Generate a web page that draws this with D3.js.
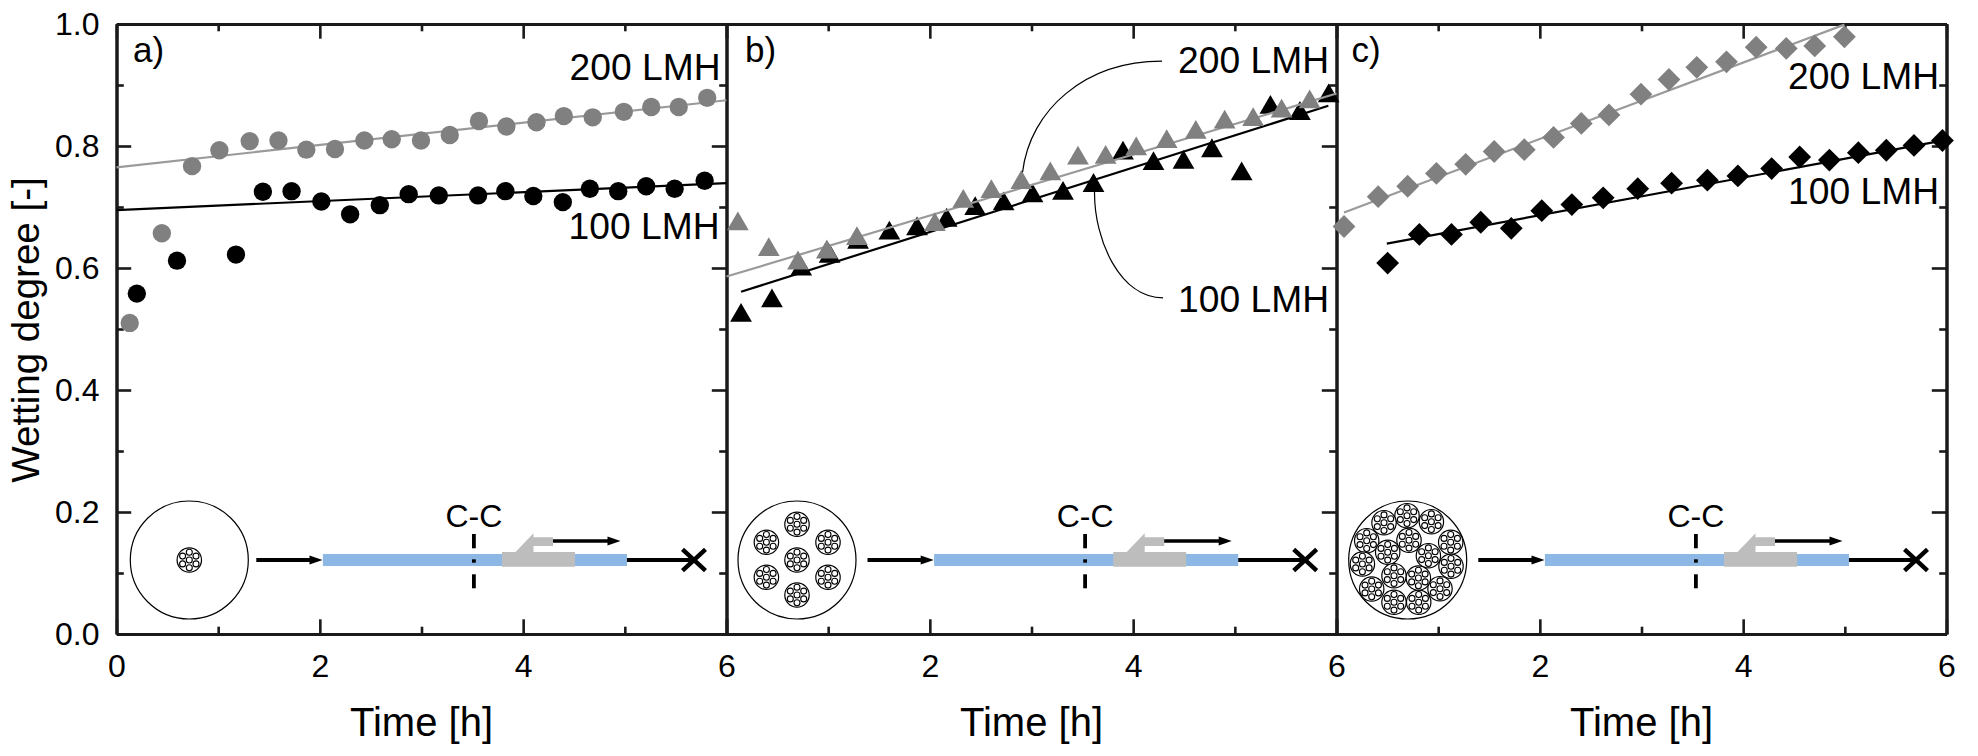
<!DOCTYPE html>
<html>
<head>
<meta charset="utf-8">
<script src="https://cdn.jsdelivr.net/npm/d3@7"></script>
<style>
    html, body { margin: 0; padding: 0; background: #fff; }
    svg { display: block; }
    text { font-family: "Liberation Sans", Arial, sans-serif; fill: #000; }
</style>
</head>
<body>
<script>
"use strict";

// [time (h), wetting degree]
const a200 = [[0.13, 0.510], [0.446, 0.657], [0.743, 0.767], [1.012, 0.793], [1.31, 0.808],
    [1.593, 0.809], [1.867, 0.794], [2.149, 0.795], [2.438, 0.809], [2.707, 0.811],
    [2.995, 0.809], [3.278, 0.818], [3.565, 0.841], [3.835, 0.832], [4.131, 0.839],
    [4.40, 0.849], [4.684, 0.847], [4.99, 0.856], [5.26, 0.864], [5.53, 0.864], [5.81, 0.879]];
const a100 = [[0.20, 0.558], [0.595, 0.612], [1.175, 0.622], [1.44, 0.725], [1.722, 0.726],
    [2.015, 0.709], [2.298, 0.688], [2.59, 0.703], [2.874, 0.721], [3.17, 0.719],
    [3.556, 0.719], [3.825, 0.726], [4.10, 0.718], [4.39, 0.708], [4.656, 0.730],
    [4.935, 0.726], [5.21, 0.734], [5.49, 0.730], [5.785, 0.743]];
const b200 = [[0.112, 0.672], [0.416, 0.630], [0.703, 0.608], [0.987, 0.626], [1.283, 0.648],
    [2.049, 0.671], [2.329, 0.709], [2.605, 0.725], [2.90, 0.740], [3.185, 0.754],
    [3.457, 0.780], [3.729, 0.781], [4.03, 0.795], [4.33, 0.807], [4.616, 0.822],
    [4.90, 0.839], [5.18, 0.843], [5.46, 0.857], [5.736, 0.872]];
const b100 = [[0.143, 0.522], [0.447, 0.546], [0.735, 0.598], [1.014, 0.619], [1.294, 0.642],
    [1.602, 0.657], [1.874, 0.664], [2.166, 0.678], [2.446, 0.697], [2.726, 0.705],
    [3.01, 0.718], [3.31, 0.722], [3.61, 0.735], [3.90, 0.788], [4.20, 0.771],
    [4.495, 0.773], [4.775, 0.792], [5.067, 0.754], [5.35, 0.863], [5.64, 0.853], [5.923, 0.882]];
const c200 = [[0.074, 0.668], [0.41, 0.717], [0.70, 0.734], [0.983, 0.755], [1.271, 0.770],
    [1.551, 0.791], [1.847, 0.794], [2.135, 0.814], [2.408, 0.837], [2.68, 0.851],
    [2.995, 0.885], [3.27, 0.909], [3.544, 0.929], [3.836, 0.938], [4.128, 0.962],
    [4.424, 0.960], [4.704, 0.964], [4.996, 0.979]];
const c100 = [[0.503, 0.608], [0.815, 0.655], [1.131, 0.655], [1.419, 0.675], [1.719, 0.665],
    [2.019, 0.694], [2.315, 0.704], [2.623, 0.715], [2.963, 0.730], [3.296, 0.739],
    [3.648, 0.744], [3.948, 0.751], [4.28, 0.763], [4.556, 0.782], [4.848, 0.777],
    [5.133, 0.789], [5.408, 0.793], [5.68, 0.801], [5.96, 0.809]];

// Fit lines, end points only
const aFit200 = [[0, 0.765], [6, 0.875]];
const aFit100 = [[0, 0.695], [6, 0.739]];
const bFit200 = [[0, 0.586], [6, 0.886]];
const bFit100 = [[0.143, 0.561], [5.92, 0.866]];
const cFit200 = [[0.074, 0.691], [4.996, 0.999]];
const cFit100 = [[0.495, 0.640], [6, 0.810]];

// Leader curves of panel b: start, control, control, end
const bLeader200 = [[2.912, 0.757], [2.985, 0.859], [3.526, 0.939], [4.284, 0.939]];
const bLeader100 = [[3.62, 0.725], [3.615, 0.646], [3.87, 0.551], [4.294, 0.551]];

// Fibre bundles in the cross sections, offset from the section centre
const bundlesA = [[0, 0]];
const bundlesB = [[0, 0], [0, -35.7], [-30.6, -17.7], [31, -17.7], [-30.6, 17.3], [31, 17.3], [0, 35]];
const bundlesC = [[-0.7, -44.3], [-23.7, -37.3], [23.7, -38.3], [-41, -19.3], [43, -17.7],
    [-45.3, 4], [43.3, 6.3], [-36, 29], [32.3, 28.7], [-13.7, 42.3], [11, 42.3],
    [1.3, -19.7], [-20, -7.7], [20.7, -4.3], [-13.7, 15.7], [10.7, 18]];
// Fibres in one bundle
const fibres = [[0, 0], [0, -7.8], [6.7, -3.9], [6.7, 3.9], [0, 7.8], [-6.7, 3.9], [-6.7, -3.9]];

const xMajor = [0, 2, 4, 6];
const xMinor = [1, 3, 5];
const yMajor = [0, 0.2, 0.4, 0.6, 0.8, 1];
const yMinor = [0.1, 0.3, 0.5, 0.7, 0.9];

const GREY = '#808080';
const GREY_LINE = '#9a9a9a';
const AXIS_COLOR = '#1a1a1a';

const top_ = 24, bottom = 634, panelW = 610;

let svg = d3.select('body').append('svg')
    .attr('width', 1978)
    .attr('height', 756);

let y = d3.scaleLinear().domain([0, 1]).range([bottom, top_]);

function styleAxis(g) {
    g.selectAll('path.domain').attr('stroke', AXIS_COLOR).attr('stroke-width', 3);
    g.selectAll('line').attr('stroke', AXIS_COLOR).attr('stroke-width', 2.6);
    g.selectAll('text').style('font-size', '32px')
        .style('font-family', '"Liberation Sans", Arial, sans-serif').attr('fill', '#000');
}

function drawAxes(g, x, left, xLabels) {
    const noLabel = () => '';
    // Bottom, labels only where asked for
    g.append('g').attr('transform', 'translate(0,' + bottom + ')')
        .call(d3.axisBottom(x).tickValues(xMajor).tickSize(-14.7).tickSizeOuter(0).tickPadding(20)
            .tickFormat(d => xLabels.includes(d) ? d : ''))
        .call(styleAxis);
    g.append('g').attr('transform', 'translate(0,' + bottom + ')')
        .call(d3.axisBottom(x).tickValues(xMinor).tickSize(-7.3).tickSizeOuter(0).tickFormat(noLabel))
        .call(styleAxis);
    // Top
    g.append('g').attr('transform', 'translate(0,' + top_ + ')')
        .call(d3.axisTop(x).tickValues(xMajor).tickSize(-14.7).tickSizeOuter(0).tickFormat(noLabel))
        .call(styleAxis);
    g.append('g').attr('transform', 'translate(0,' + top_ + ')')
        .call(d3.axisTop(x).tickValues(xMinor).tickSize(-7.3).tickSizeOuter(0).tickFormat(noLabel))
        .call(styleAxis);
    // Right
    g.append('g').attr('transform', 'translate(' + panelW + ',0)')
        .call(d3.axisRight(y).tickValues(yMajor).tickSize(-14.7).tickSizeOuter(0).tickFormat(noLabel))
        .call(styleAxis);
    g.append('g').attr('transform', 'translate(' + panelW + ',0)')
        .call(d3.axisRight(y).tickValues(yMinor).tickSize(-7.3).tickSizeOuter(0).tickFormat(noLabel))
        .call(styleAxis);
    if (left) {  // Only the first panel has its own left axis
        g.append('g')
            .call(d3.axisLeft(y).tickValues(yMajor).tickSize(-14.7).tickSizeOuter(0).tickPadding(17)
                .tickFormat(d3.format('.1f')))
            .call(styleAxis);
        g.append('g')
            .call(d3.axisLeft(y).tickValues(yMinor).tickSize(-7.3).tickSizeOuter(0).tickFormat(noLabel))
            .call(styleAxis);
    }
}

function drawFit(g, x, pts, color) {
    let line = d3.line().x(d => x(d[0])).y(d => y(d[1]));
    g.append('path').datum(pts)
        .attr('d', line)
        .attr('fill', 'none')
        .attr('stroke', color)
        .attr('stroke-width', 2.2);
}

function drawMarkers(g, x, pts, symbol, size, rotate, color) {
    let path = d3.symbol().type(symbol).size(size);
    g.selectAll(null).data(pts).enter().append('path')
        .attr('d', path)
        .attr('fill', color)
        .attr('transform', d => 'translate(' + x(d[0]) + ',' + y(d[1]) + ') rotate(' + rotate + ')');
}

function drawLabel(g, txt, x, yPos, anchor, size) {
    g.append('text').text(txt)
        .attr('x', x).attr('y', yPos)
        .attr('text-anchor', anchor)
        .style('font-size', size + 'px');
}

function drawSection(g, cx, bundles) {
    const cy = 560;
    g.append('circle')
        .attr('cx', cx).attr('cy', cy).attr('r', 59)
        .attr('fill', '#fff').attr('stroke', '#000').attr('stroke-width', 1.2);
    bundles.forEach(function (b) {
        let bundle = g.append('g')
            .attr('transform', 'translate(' + (cx + b[0]) + ',' + (cy + b[1]) + ')');
        bundle.append('circle').attr('r', 12.2)
            .attr('fill', '#fff').attr('stroke', '#000').attr('stroke-width', 1.2);
        bundle.selectAll(null).data(fibres).enter().append('circle')
            .attr('cx', d => d[0]).attr('cy', d => d[1]).attr('r', 3)
            .attr('fill', '#fff').attr('stroke', '#000').attr('stroke-width', 1.1);
    });
}

// Module sketch: feed arrow, blue module, grey outlet, closed end
function drawModule(g) {
    const cy = 560;
    g.append('line').attr('x1', 139.8).attr('x2', 196).attr('y1', cy).attr('y2', cy)
        .attr('stroke', '#000').attr('stroke-width', 4);
    g.append('path').attr('d', 'M193,' + (cy - 4.5) + 'L206,' + cy + 'L193,' + (cy + 4.5) + 'Z').attr('fill', '#000');
    g.append('rect').attr('x', 206.4).attr('y', 554).attr('width', 304.1).attr('height', 12)
        .attr('fill', '#8db8e5');
    g.append('path')
        .attr('d', 'M385.5,552 V566.7 H458.5 V552 H417 V546 H436.5 V537.3 H417 V533.3 L399,552 Z')
        .attr('fill', '#bdbdbd');
    g.append('line').attr('x1', 436.5).attr('x2', 494).attr('y1', 541).attr('y2', 541)
        .attr('stroke', '#000').attr('stroke-width', 3.6);
    g.append('path').attr('d', 'M491,536.5 L504,541 L491,545.5 Z').attr('fill', '#000');
    g.append('line').attr('x1', 510.5).attr('x2', 575).attr('y1', cy).attr('y2', cy)
        .attr('stroke', '#000').attr('stroke-width', 4);
    g.append('path').attr('d', 'M566,549.3 L589,570.7 M589,549.3 L566,570.7')
        .attr('fill', 'none').attr('stroke', '#000').attr('stroke-width', 4.4);
    [[534, 548.3], [559.3, 562.7], [574.3, 588.3]].forEach(function (s) {
        g.append('line').attr('x1', 357.4).attr('x2', 357.4).attr('y1', s[0]).attr('y2', s[1])
            .attr('stroke', '#000').attr('stroke-width', 3.8);
    });
    drawLabel(g, 'C-C', 357.4, 527, 'middle', 32);
}

const panels = [
    {left: 116.5, sketch: 0, sectionX: 72.8, bundles: bundlesA, tag: 'a)', labelX: 16.5, left_axis: true,
        xLabels: [0, 2, 4, 6], s200: a200, s100: a100, f200: aFit200, f100: aFit100,
        symbol: d3.symbolCircle, size: 265, rotate: 0,
        l200: [604, 80], l100: [603, 238.7]},
    {left: 726.5, sketch: 1.2, sectionX: 69.3, bundles: bundlesB, tag: 'b)', labelX: 18.5, left_axis: false,
        xLabels: [2, 4, 6], s200: b200, s100: b100, f200: bFit200, f100: bFit100,
        symbol: d3.symbolTriangle, size: 205, rotate: 0,
        l200: [602.5, 72.7], l100: [602.5, 311.7]},
    {left: 1336.5, sketch: 2, sectionX: 69.2, bundles: bundlesC, tag: 'c)', labelX: 15, left_axis: false,
        xLabels: [2, 4, 6], s200: c200, s100: c100, f200: cFit200, f100: cFit100,
        symbol: d3.symbolSquare, size: 260, rotate: 45,
        l200: [602.5, 89.3], l100: [602.5, 204.3]}
];

panels.forEach(function (p) {
    let x = d3.scaleLinear().domain([0, 6]).range([0, panelW]);
    let g = svg.append('g').attr('transform', 'translate(' + p.left + ',0)');

    drawAxes(g, x, p.left_axis, p.xLabels);

    let sketch = g.append('g').attr('transform', 'translate(' + p.sketch + ',0)');
    drawSection(sketch, p.sectionX, p.bundles);
    drawModule(sketch);

    drawFit(g, x, p.f100, '#000');
    drawMarkers(g, x, p.s100, p.symbol, p.size, p.rotate, '#000');
    drawFit(g, x, p.f200, GREY_LINE);
    drawMarkers(g, x, p.s200, p.symbol, p.size, p.rotate, GREY);

    drawLabel(g, p.tag, p.labelX, 61.7, 'start', 35);
    drawLabel(g, '200 LMH', p.l200[0], p.l200[1], 'end', 37.2);
    drawLabel(g, '100 LMH', p.l100[0], p.l100[1], 'end', 37.2);
    drawLabel(g, 'Time [h]', panelW / 2, 736, 'middle', 40);

    if (p.tag === 'b)') {
        [bLeader200, bLeader100].forEach(function (c) {
            g.append('path')
                .attr('d', 'M' + x(c[0][0]) + ',' + y(c[0][1]) +
                    'C' + c.slice(1).map(d => x(d[0]) + ',' + y(d[1])).join(' '))
                .attr('fill', 'none').attr('stroke', '#000').attr('stroke-width', 1.2);
        });
    }
});

svg.append('text').text('Wetting degree [-]')
    .attr('transform', 'translate(39,330) rotate(-90)')
    .attr('text-anchor', 'middle')
    .style('font-size', '38.5px');
</script>
</body>
</html>
